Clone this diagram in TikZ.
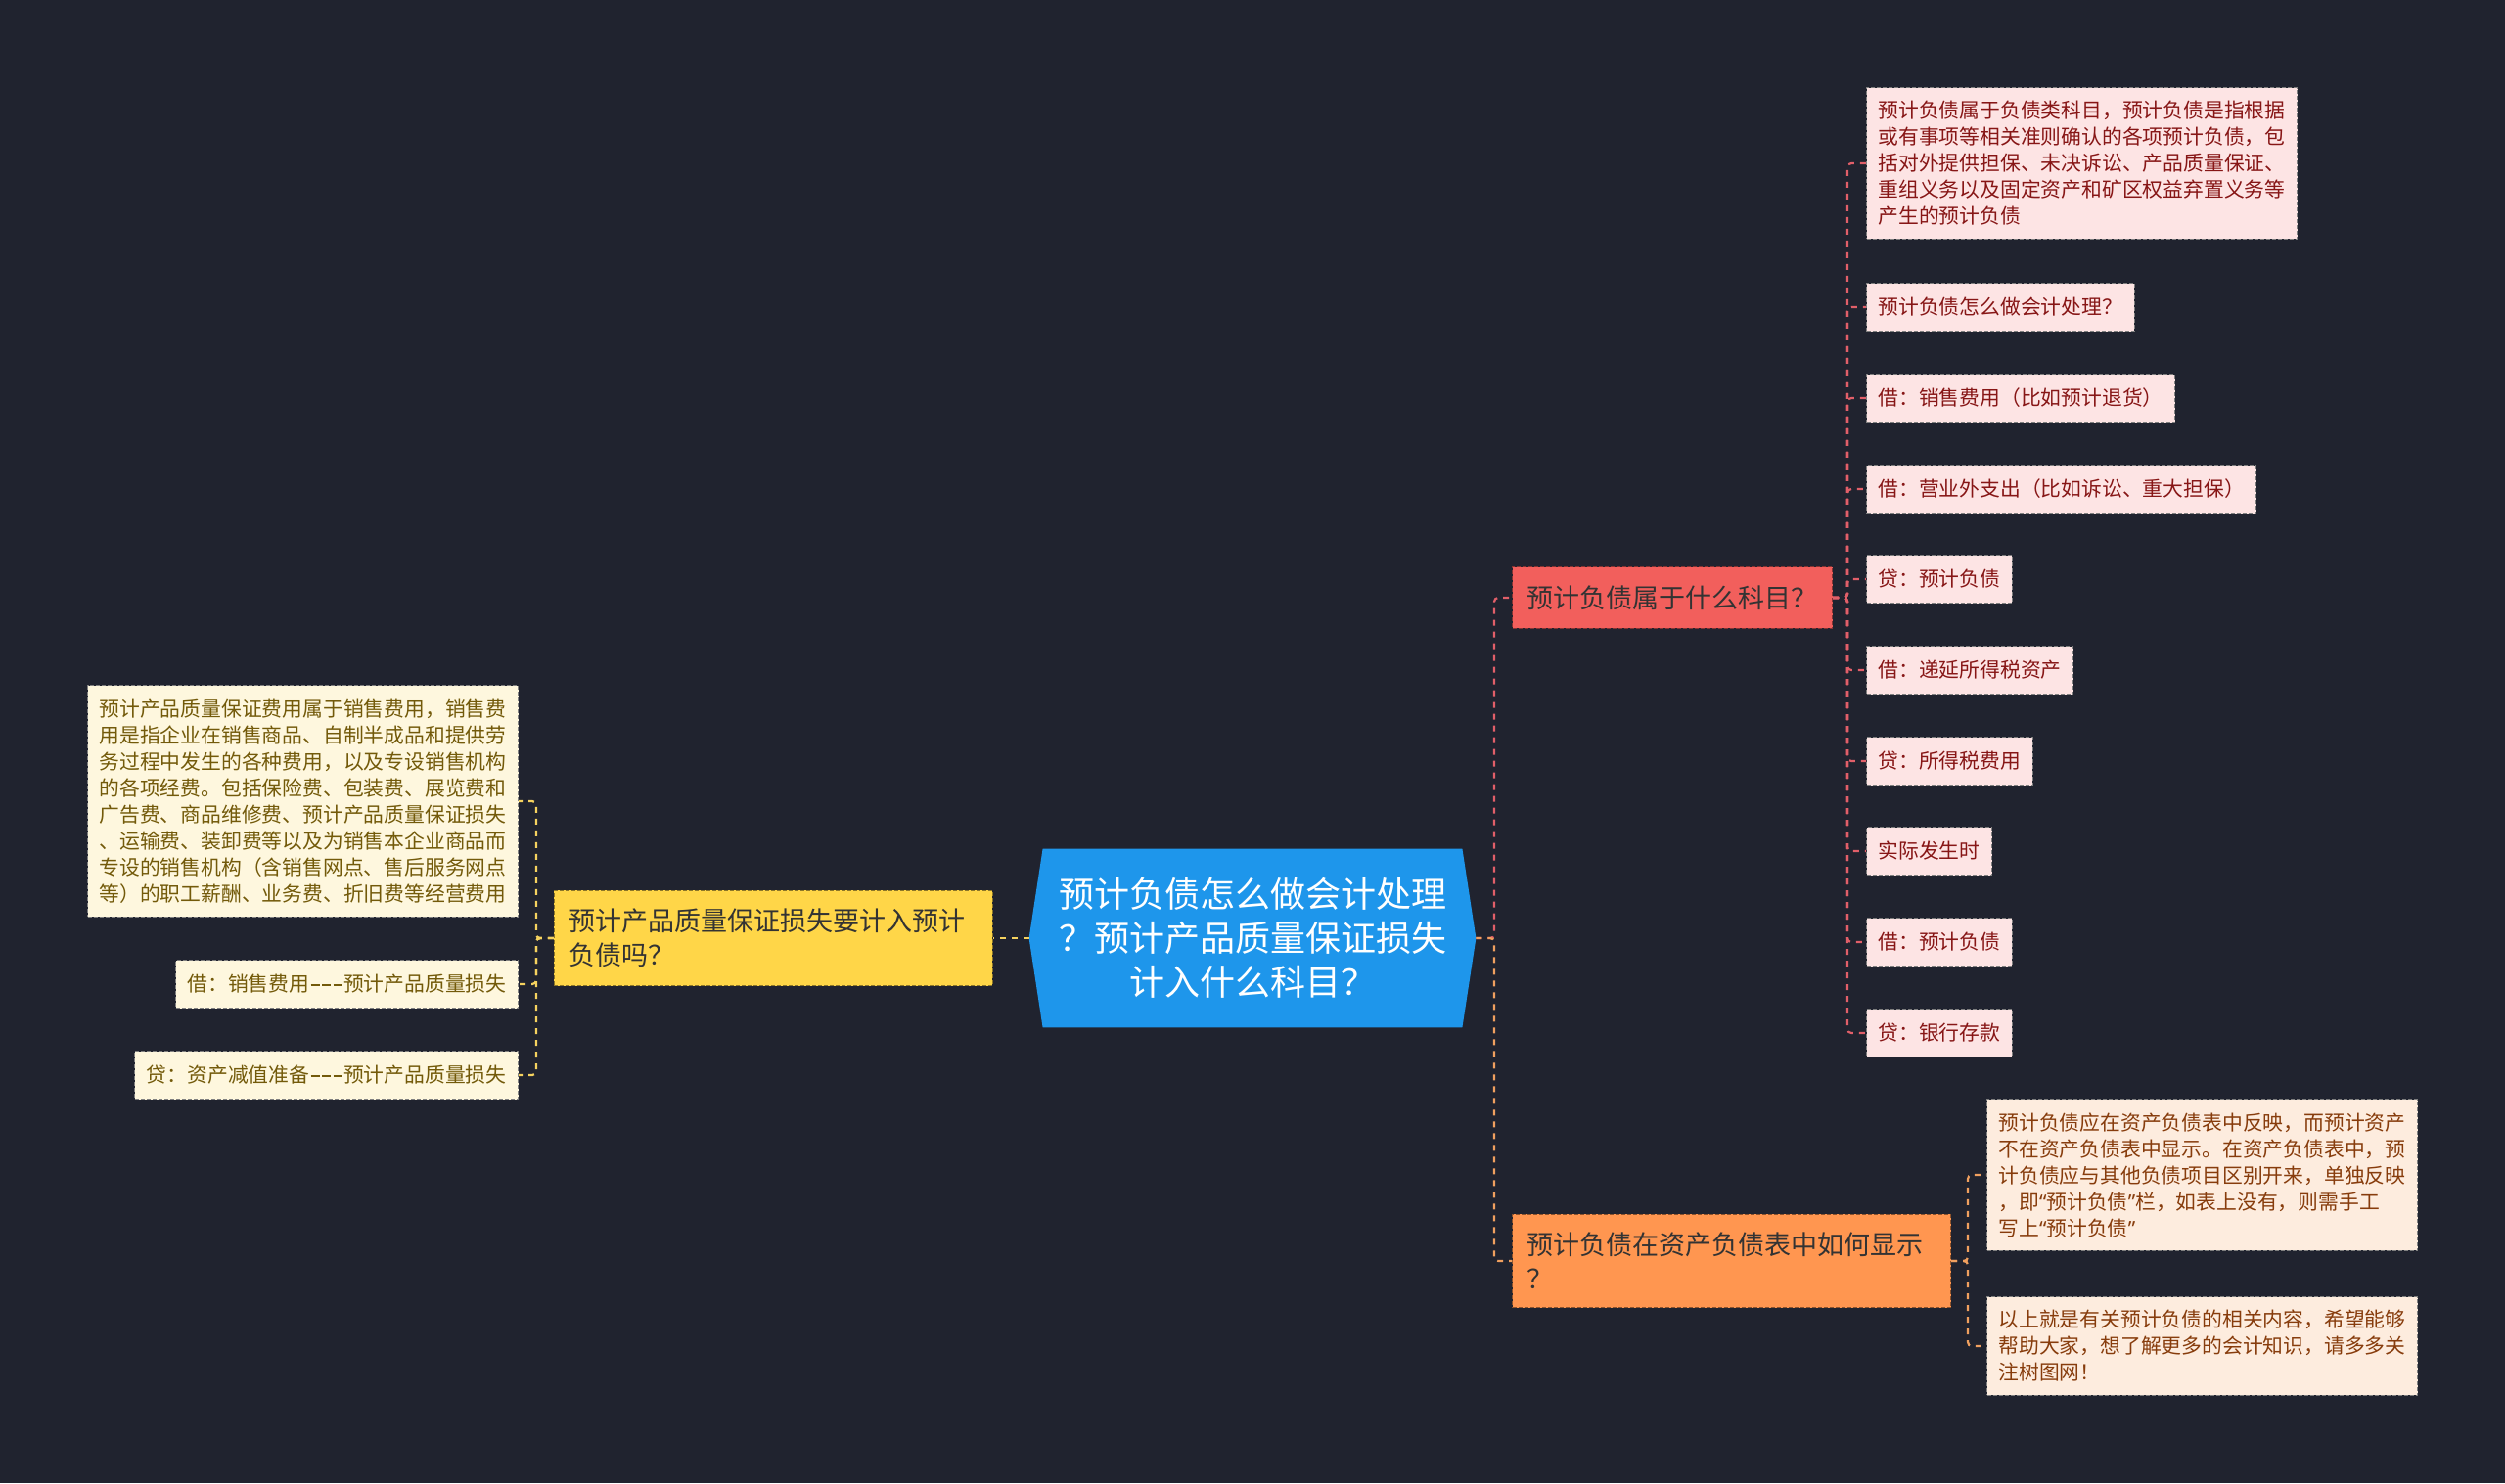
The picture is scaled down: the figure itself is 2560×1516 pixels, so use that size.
\documentclass[tikz,border=0pt]{standalone}
\usepackage{fontspec}
\setmainfont{Noto Sans CJK SC}
\newfontfamily\quotefont{Noto Sans}
\usetikzlibrary{calc}

\definecolor{bgdark}{RGB}{32,35,47}
\definecolor{rootblue}{RGB}{30,150,235}
\definecolor{redmain}{RGB}{242,95,92}
\definecolor{orangemain}{RGB}{255,150,80}
\definecolor{yellowmain}{RGB}{255,214,72}
\definecolor{redleaf}{RGB}{253,228,228}
\definecolor{orangeleaf}{RGB}{253,236,222}
\definecolor{yellowleaf}{RGB}{254,247,222}
\definecolor{redtext}{RGB}{135,22,22}
\definecolor{orangetext}{RGB}{135,60,12}
\definecolor{yellowtext}{RGB}{115,90,10}
\definecolor{redlink}{RGB}{225,95,105}
\definecolor{orangelink}{RGB}{240,160,95}
\definecolor{yellowlink}{RGB}{245,210,95}

\pgfdeclarelayer{background}
\pgfsetlayers{background,main}

\begin{document}
\begin{tikzpicture}[
    x=0.5pt, y=-0.5pt,
    % --- Styles ---
    root node/.style={text=white, align=center, inner sep=0pt,
      minimum width=214pt, minimum height=91pt,
      font=\fontsize{18}{22.5}\selectfont},
    % Second level: coloured box, dark text
    branch node/.style={draw=#1!55!black, fill=#1, dash pattern=on 2pt off 1pt,
      line width=0.6pt, text=black!80, align=left, anchor=west,
      inner xsep=7.5pt, inner ysep=9.4pt, font=\fontsize{13.5}{17.5}\selectfont},
    % Leaves: pale box, text in the branch colour
    leaf node/.style={draw=black!50, fill=#1leaf, text=#1text, dash pattern=on 2pt off 1pt,
      line width=0.5pt, align=left, anchor=west, minimum height=24.5pt,
      inner xsep=6pt, inner ysep=6.9pt, font=\fontsize{10.4}{13.5}\selectfont},
    link line/.style={draw=#1, line width=1.1pt, dash pattern=on 3pt off 3pt,
      rounded corners=2pt}
]

%================CONFIGURATION================
% bus lines (x only) and the hub right of the root
\coordinate (busY) at (548,0);
\coordinate (busR) at (1888,0);
\coordinate (busO) at (2011,0);
\coordinate (hubR) at (1527,959);
% wide hyphens and narrow quotes, as printed
\def\onedash{\makebox[5.8pt]{\rule[3pt]{4.6pt}{0.8pt}}}
\def\dashrun{\onedash\onedash\onedash}
\def\lq{{\quotefont“}}
\def\rq{{\quotefont”}}
%=============================================

\begin{pgfonlayer}{background}
  \fill[bgdark] (0,0) rectangle (2560,1516);
\end{pgfonlayer}
\useasboundingbox (0,0) rectangle (2560,1516);

% --- 1. Root (pointed ends on the background layer) ---
\node[root node] (root) at (1280,959)
  {预计负债怎么做会计处理\\？预计产品质量保证损失\\计入什么科目？};
\coordinate (rootW) at ([xshift=-7pt]root.west);
\coordinate (rootE) at ([xshift=7pt]root.east);
\begin{pgfonlayer}{background}
  \fill[rootblue] (rootW) -- (root.north west) -- (root.north east) -- (rootE)
    -- (root.south east) -- (root.south west) -- cycle;
\end{pgfonlayer}

% --- 2. Branches ---
\node[branch node=redmain] (q1) at (1545,611) {预计负债属于什么科目？};
\node[branch node=yellowmain, text width=209pt, anchor=east] (q2) at (1015,959)
  {预计产品质量保证损失要计入预计\\负债吗？};
\node[branch node=orangemain, text width=209pt] (q3) at (1545,1289)
  {预计负债在资产负债表中如何显示\\？};

\draw[link line=redlink] (rootE) -- (hubR) |- (q1.west);
\draw[link line=orangelink] (rootE) -- (hubR) |- (q3.west);
\draw[link line=yellowlink] (rootW) -- (q2.east);

% --- 3. Leaves of the red branch ---
\foreach \txt/\yy [count=\i] in {
    {预计负债属于负债类科目，预计负债是指根据\\或有事项等相关准则确认的各项预计负债，包\\括对外提供担保、未决诉讼、产品质量保证、\\重组义务以及固定资产和矿区权益弃置义务等\\产生的预计负债}/167,
    {预计负债怎么做会计处理？}/314,
    {借：销售费用（比如预计退货）}/407,
    {借：营业外支出（比如诉讼、重大担保）}/500,
    {贷：预计负债}/592,
    {借：递延所得税资产}/685,
    {贷：所得税费用}/778,
    {实际发生时}/870,
    {借：预计负债}/963,
    {贷：银行存款}/1056} {
  \node[leaf node=red] (r\i) at (1907,\yy) {\txt};
  \draw[link line=redlink] (q1.east) -- (q1.east -| busR) |- (r\i.west);
}

% --- 4. Leaves of the yellow branch ---
\foreach \txt/\yy [count=\i] in {
    {预计产品质量保证费用属于销售费用，销售费\\用是指企业在销售商品、自制半成品和提供劳\\务过程中发生的各种费用，以及专设销售机构\\的各项经费。包括保险费、包装费、展览费和\\广告费、商品维修费、预计产品质量保证损失\\、运输费、装卸费等以及为销售本企业商品而\\专设的销售机构（含销售网点、售后服务网点\\等）的职工薪酬、业务费、折旧费等经营费用}/819,
    {借：销售费用\dashrun 预计产品质量损失}/1006,
    {贷：资产减值准备\dashrun 预计产品质量损失}/1099} {
  \node[leaf node=yellow, anchor=east] (y\i) at (530,\yy) {\txt};
  \draw[link line=yellowlink] (q2.west) -- (q2.west -| busY) |- (y\i.east);
}

% --- 5. Leaves of the orange branch ---
\foreach \txt/\yy [count=\i] in {
    {预计负债应在资产负债表中反映，而预计资产\\不在资产负债表中显示。在资产负债表中，预\\计负债应与其他负债项目区别开来，单独反映\\，即\lq 预计负债\rq 栏，如表上没有，则需手工\\写上\lq 预计负债\rq}/1201,
    {以上就是有关预计负债的相关内容，希望能够\\帮助大家，想了解更多的会计知识，请多多关\\注树图网！}/1376} {
  \node[leaf node=orange] (o\i) at (2030,\yy) {\txt};
  \draw[link line=orangelink] (q3.east) -- (q3.east -| busO) |- (o\i.west);
}

\end{tikzpicture}
\end{document}
